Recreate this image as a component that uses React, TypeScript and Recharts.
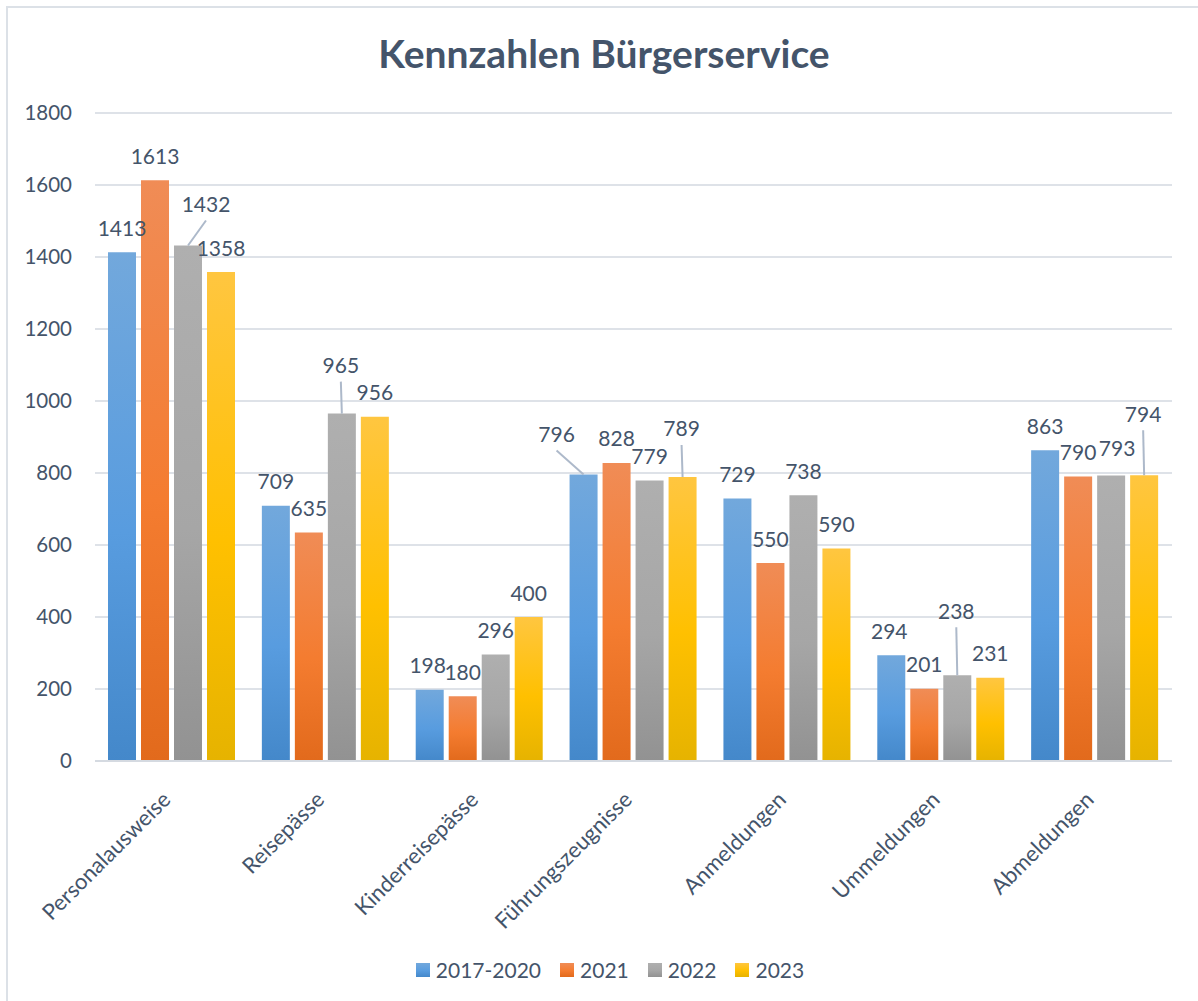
import { BarChart, Bar, XAxis, YAxis, CartesianGrid, LabelList } from 'recharts';

const categories = [
  'Personalausweise',
  'Reisepässe',
  'Kinderreisepässe',
  'Führungszeugnisse',
  'Anmeldungen',
  'Ummeldungen',
  'Abmeldungen',
];
const values2017to2020 = [1413, 709, 198, 796, 729, 294, 863];
const values2021 = [1613, 635, 180, 828, 550, 201, 790];
const values2022 = [1432, 965, 296, 779, 738, 238, 793];
const values2023 = [1358, 956, 400, 789, 590, 231, 794];
const seriesNames = ['2017-2020', '2021', '2022', '2023'];
const yTicks = [0, 200, 400, 600, 800, 1000, 1200, 1400, 1600, 1800];

const data = categories.map((name, i) => ({
  name,
  s0: values2017to2020[i],
  s1: values2021[i],
  s2: values2022[i],
  s3: values2023[i],
}));

const FONT = 'Lato, "Open Sans", sans-serif';
const TEXT = '#44546A';

// gradient stops per series: top, middle, bottom
const gradients = [
  ['#72A8DC', '#589CDF', '#4488CA'],
  ['#F08C56', '#F47C30', '#E26A1C'],
  ['#AFAFAF', '#A6A6A6', '#929292'],
  ['#FFC640', '#FFC000', '#E6B300'],
];

// label nudges (dx, dy from bar top centre), leader = draw connector
const nudges: Record<string, { dx: number; dy: number; leader?: boolean }> = {
  '0-2': { dx: -2, dy: -25 },
  '0-3': { dx: -27, dy: -41, leader: true },
  '0-5': { dx: -2, dy: -25 },
  '2-0': { dx: 18, dy: -42, leader: true },
  '2-1': { dx: -1, dy: -49, leader: true },
  '2-5': { dx: -1, dy: -65, leader: true },
  '2-6': { dx: 6, dy: -28 },
  '3-3': { dx: -1, dy: -49, leader: true },
  '3-6': { dx: -1, dy: -62, leader: true },
};

const makeLabel = (si: number) => (props: any) => {
  const { x, y, width, value, index } = props;
  const cx = Number(x) + Number(width) / 2;
  const top = Number(y);
  const n = nudges[`${si}-${index}`] || { dx: 0, dy: -25 };
  const lx = cx + n.dx;
  const ly = top + n.dy;
  return (
    <g>
      {n.leader && (
        <line x1={cx} y1={top} x2={lx} y2={ly + 17} stroke="#ADB9CA" strokeWidth={2} />
      )}
      <text
        x={lx}
        y={ly}
        textAnchor="middle"
        dominantBaseline="central"
        fill={TEXT}
        fontSize={21}
        fontFamily={FONT}
      >
        {value}
      </text>
    </g>
  );
};

const CategoryTick = (props: any) => {
  const { x, y, payload } = props;
  return (
    <g transform={`translate(${x},${y + 40})`}>
      <text
        transform="rotate(-45)"
        textAnchor="end"
        fill={TEXT}
        fontSize={22}
        fontFamily={FONT}
      >
        {payload.value}
      </text>
    </g>
  );
};

export default function App() {
  return (
    <div
      style={{
        position: 'absolute',
        left: 6,
        top: 6,
        width: 1190,
        height: 993,
        borderLeft: '2px solid #DCE1E7',
        borderTop: '2px solid #DCE1E7',
        background: '#fff',
        fontFamily: FONT,
      }}
    >
      <div
        style={{
          position: 'absolute',
          left: 0,
          top: 26,
          width: 1192,
          textAlign: 'center',
          fontSize: 39,
          fontWeight: 700,
          color: TEXT,
          lineHeight: '39px',
        }}
      >
        Kennzahlen Bürgerservice
      </div>
      <div style={{ position: 'absolute', left: -2, top: -2 }}>
        <BarChart
          width={1192}
          height={995}
          data={data}
          margin={{ top: 107, right: 26, left: 0, bottom: 70 }}
          barCategoryGap={13}
          barGap={5}
        >
          <defs>
            {gradients.map((g, i) => (
              <linearGradient key={i} id={`grad${i}`} x1="0" y1="0" x2="0" y2="1">
                <stop offset="0%" stopColor={g[0]} />
                <stop offset="55%" stopColor={g[1]} />
                <stop offset="100%" stopColor={g[2]} />
              </linearGradient>
            ))}
          </defs>
          <CartesianGrid vertical={false} stroke="#DEE2E8" strokeWidth={2} />
          <XAxis
            dataKey="name"
            height={170}
            interval={0}
            tickLine={false}
            tickSize={0}
            tickMargin={0}
            axisLine={{ stroke: '#D5DAE1', strokeWidth: 2 }}
            tick={<CategoryTick />}
          />
          <YAxis
            width={89}
            domain={[0, 1800]}
            ticks={yTicks}
            axisLine={false}
            tickLine={false}
            tickSize={0}
            tickMargin={23}
            tick={{ fill: TEXT, fontSize: 20.5, fontFamily: FONT }}
          />
          {['s0', 's1', 's2', 's3'].map((key, si) => (
            <Bar
              key={key}
              dataKey={key}
              name={seriesNames[si]}
              fill={`url(#grad${si})`}
              isAnimationActive={false}
            >
              <LabelList dataKey={key} content={makeLabel(si)} />
            </Bar>
          ))}
        </BarChart>
      </div>
      <div
        style={{
          position: 'absolute',
          left: 6,
          top: 949,
          width: 1192,
          display: 'flex',
          justifyContent: 'center',
          alignItems: 'center',
          fontSize: 21,
          color: TEXT,
        }}
      >
        {seriesNames.map((n, i) => (
          <div key={n} style={{ display: 'flex', alignItems: 'center', marginRight: i < 3 ? 19 : 0 }}>
            <span
              style={{
                width: 14,
                height: 14,
                marginRight: 6,
                background: `linear-gradient(${gradients[i][0]}, ${gradients[i][1]} 55%, ${gradients[i][2]})`,
              }}
            />
            <span>{n}</span>
          </div>
        ))}
      </div>
    </div>
  );
}
